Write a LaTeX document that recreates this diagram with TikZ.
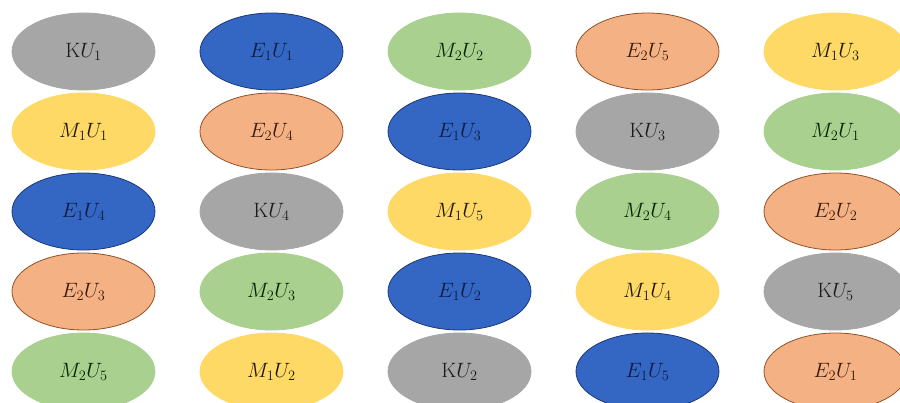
\documentclass[tikz,border=0pt]{standalone}
\usepackage{tikz}
\usetikzlibrary{
  positioning,
  shapes,
}
\definecolor{cellgray}{RGB}{166,166,166}
\definecolor{cellblue}{RGB}{52,102,196}
\definecolor{cellblueline}{RGB}{28,55,120}
\definecolor{cellgreen}{RGB}{169,208,142}
\definecolor{cellyellow}{RGB}{255,217,102}
\definecolor{cellorange}{RGB}{244,177,131}
\definecolor{cellorangeline}{RGB}{150,78,35}
\tikzstyle{cell} = [
  ellipse,
  minimum width=143pt,
  minimum height=77pt,
  inner sep=0pt,
  outer sep=0pt,
  line width=0.8pt,
  font=\fontsize{21}{24}\selectfont,
]
\tikzstyle{kcell} = [cell, fill=cellgray, draw=cellgray, text=black!90]
\tikzstyle{ecell} = [cell, fill=cellblue, draw=cellblueline, text=cellblueline!50!black]
\tikzstyle{fcell} = [cell, fill=cellorange, draw=cellorangeline, text=cellorangeline!35!black]
\tikzstyle{mcell} = [cell, fill=cellyellow, draw=cellyellow, text=black!85!brown]
\tikzstyle{ncell} = [cell, fill=cellgreen, draw=cellgreen, text=black!85!green]

\begin{document}
\begin{tikzpicture}[node distance=3pt and 45pt]

      \useasboundingbox (0,0) rectangle (900pt,-402pt);
      \clip (0,0) rectangle (900pt,-402pt);

      \node[kcell] (ku1) at (83.5pt,-51.5pt) {$\mathrm{K}U_1$};
      \node[ecell] (e1u1) [right=of ku1]  {$E_1U_1$};
      \node[ncell] (m2u2) [right=of e1u1] {$M_2U_2$};
      \node[fcell] (e2u5) [right=of m2u2] {$E_2U_5$};
      \node[mcell] (m1u3) [right=of e2u5] {$M_1U_3$};

      \node[mcell] (m1u1) [below=of ku1]  {$M_1U_1$};
      \node[fcell] (e2u4) [below=of e1u1] {$E_2U_4$};
      \node[ecell] (e1u3) [below=of m2u2] {$E_1U_3$};
      \node[kcell] (ku3)  [below=of e2u5] {$\mathrm{K}U_3$};
      \node[ncell] (m2u1) [below=of m1u3] {$M_2U_1$};

      \node[ecell] (e1u4) [below=of m1u1] {$E_1U_4$};
      \node[kcell] (ku4)  [below=of e2u4] {$\mathrm{K}U_4$};
      \node[mcell] (m1u5) [below=of e1u3] {$M_1U_5$};
      \node[ncell] (m2u4) [below=of ku3]  {$M_2U_4$};
      \node[fcell] (e2u2) [below=of m2u1] {$E_2U_2$};

      \node[fcell] (e2u3) [below=of e1u4] {$E_2U_3$};
      \node[ncell] (m2u3) [below=of ku4]  {$M_2U_3$};
      \node[ecell] (e1u2) [below=of m1u5] {$E_1U_2$};
      \node[mcell] (m1u4) [below=of m2u4] {$M_1U_4$};
      \node[kcell] (ku5)  [below=of e2u2] {$\mathrm{K}U_5$};

      \node[ncell] (m2u5) [below=of e2u3] {$M_2U_5$};
      \node[mcell] (m1u2) [below=of m2u3] {$M_1U_2$};
      \node[kcell] (ku2)  [below=of e1u2] {$\mathrm{K}U_2$};
      \node[ecell] (e1u5) [below=of m1u4] {$E_1U_5$};
      \node[fcell] (e2u1) [below=of ku5]  {$E_2U_1$};

    \end{tikzpicture}
\end{document}
